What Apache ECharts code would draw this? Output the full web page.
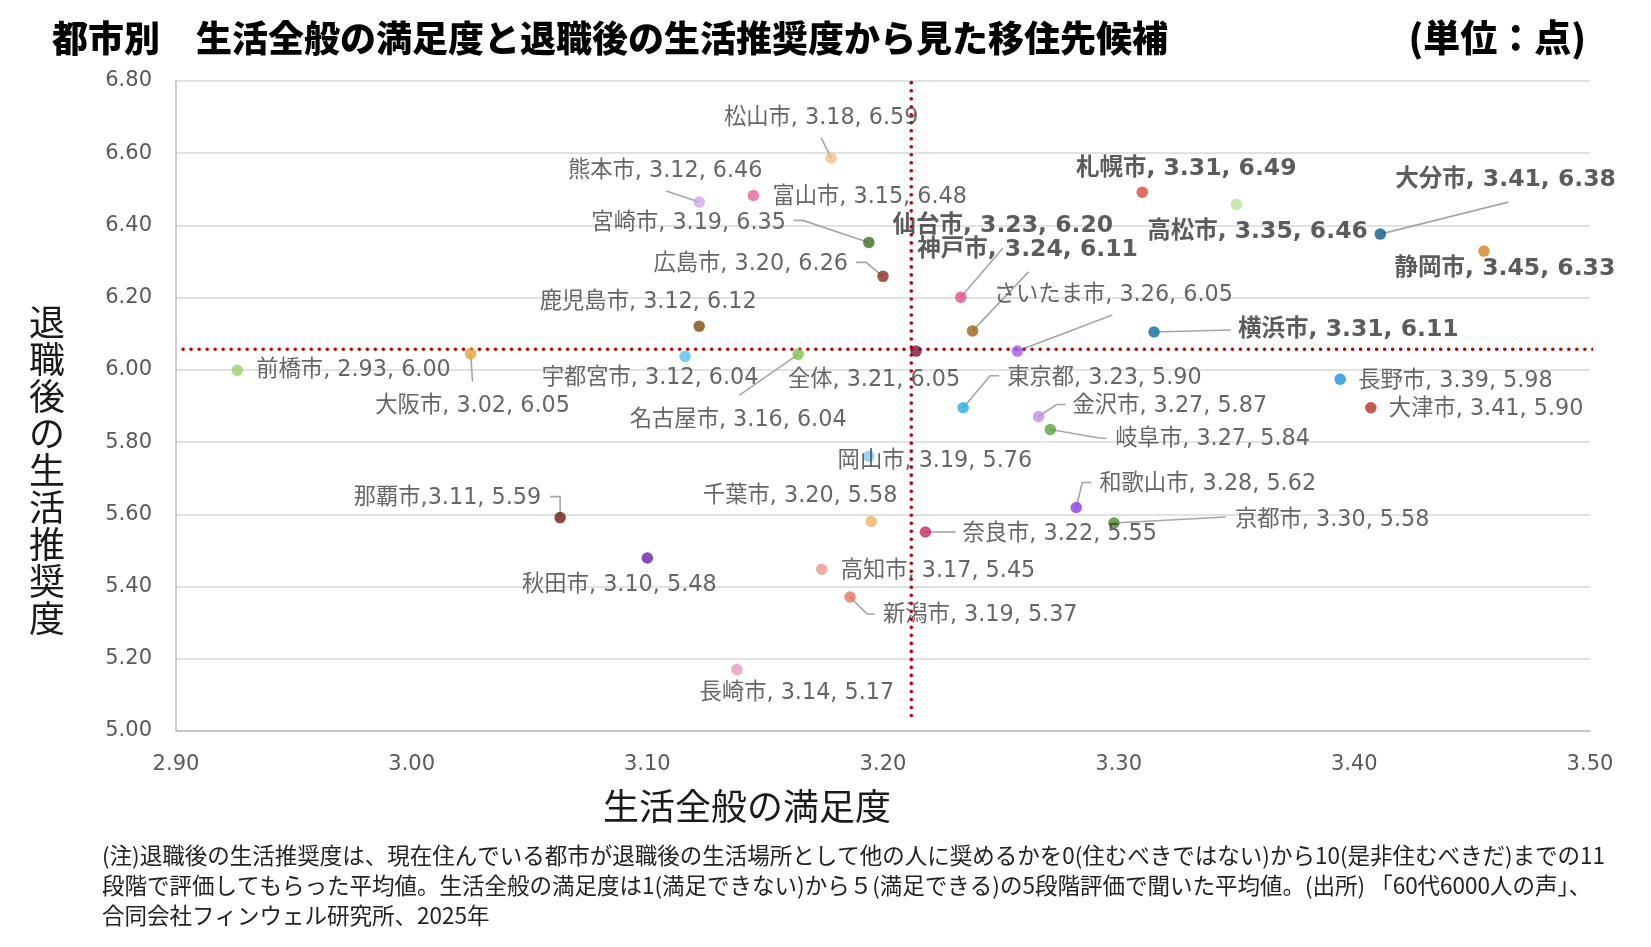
<!DOCTYPE html>
<html>
<head>
<meta charset="utf-8">
<script src="https://cdn.jsdelivr.net/npm/echarts@6/dist/echarts.min.js"></script>
<style>
html,body{margin:0;padding:0;background:#fff;}
#chart{width:1651px;height:947px;}
</style>
</head>
<body>
<div id="chart"></div>
<script>
// ---------------- DATA ----------------
const cities = ['松山市','熊本市','富山市','宮崎市','広島市','鹿児島市','宇都宮市','名古屋市','全体','仙台市','神戸市','さいたま市','前橋市','大阪市','東京都','金沢市','岐阜市','岡山市','千葉市','奈良市','和歌山市','京都市','那覇市','秋田市','高知市','新潟市','長崎市','札幌市','高松市','大分市','静岡市','横浜市','長野市','大津市'];
// 生活全般の満足度 (x)
const satisfaction = [3.178,3.122,3.145,3.194,3.200,3.122,3.116,3.164,3.214,3.233,3.238,3.257,2.926,3.025,3.234,3.266,3.271,3.194,3.195,3.218,3.282,3.298,3.063,3.100,3.174,3.186,3.138,3.310,3.350,3.411,3.455,3.315,3.394,3.407];
// 退職後の生活推奨度 (y)
const recommendation = [6.587,6.465,6.483,6.353,6.259,6.121,6.037,6.043,6.052,6.201,6.108,6.052,5.999,6.045,5.895,5.871,5.835,5.761,5.580,5.551,5.619,5.576,5.591,5.479,5.448,5.371,5.170,6.492,6.458,6.376,6.329,6.105,5.974,5.895];
// data label texts as printed
const labels = ['松山市, 3.18, 6.59','熊本市, 3.12, 6.46','富山市, 3.15, 6.48','宮崎市, 3.19, 6.35','広島市, 3.20, 6.26','鹿児島市, 3.12, 6.12','宇都宮市, 3.12, 6.04','名古屋市, 3.16, 6.04','全体, 3.21, 6.05','仙台市, 3.23, 6.20','神戸市, 3.24, 6.11','さいたま市, 3.26, 6.05','前橋市, 2.93, 6.00','大阪市, 3.02, 6.05','東京都, 3.23, 5.90','金沢市, 3.27, 5.87','岐阜市, 3.27, 5.84','岡山市, 3.19, 5.76','千葉市, 3.20, 5.58','奈良市, 3.22, 5.55','和歌山市, 3.28, 5.62','京都市, 3.30, 5.58','那覇市,3.11, 5.59','秋田市, 3.10, 5.48','高知市, 3.17, 5.45','新潟市, 3.19, 5.37','長崎市, 3.14, 5.17','札幌市, 3.31, 6.49','高松市, 3.35, 6.46','大分市, 3.41, 6.38','静岡市, 3.45, 6.33','横浜市, 3.31, 6.11','長野市, 3.39, 5.98','大津市, 3.41, 5.90'];
const highlighted = ['札幌市','大分市','高松市','静岡市','仙台市','神戸市','横浜市'];
// average (全体) reference lines
const averageX = 3.212;
const averageY = 6.057;
const averageXSpan = [5.043, 6.80];
const averageYSpan = [2.903, 3.516];
// axes
const xMin = 2.9, xMax = 3.5, xStep = 0.1;
const yMin = 5.0, yMax = 6.8, yStep = 0.2;

// ---------------- STYLE / LAYOUT ----------------
const colors = ['#F4C183','#CFA4EC','#E0649E','#3D6B1F','#8E2A20','#7B4A10','#56BDF2','#7DC24B','#7B1538','#E2508C','#9C6416','#A65CE6','#9BD16E','#EBA232','#2AAAE8','#BC8EE6','#5BA33A','#7FCBF2','#EDB464','#C22A64','#8A3BE2','#4C8A2A','#701A14','#6A1FAE','#EA9A8C','#E37462','#EA98C0','#E04A3C','#B9E29C','#0F5C88','#D3861E','#11699C','#1692D6','#B8321F'];
// label anchor offset from the point centre (px) and horizontal alignment
const labelPlacement = {
  '松山市':[-10,-40,'center'], '熊本市':[-34,-31,'center'], '富山市':[19,2,'left'],
  '宮崎市':[-83,-19,'right'], '広島市':[-35,-12,'right'], '鹿児島市':[-51,-24,'center'],
  '宇都宮市':[-35,22,'center'], '名古屋市':[-60,66,'center'], '全体':[-42,29,'center'],
  '仙台市':[42,-71,'center'], '神戸市':[55,-81,'center'], 'さいたま市':[96,-56,'center'],
  '前橋市':[19,0,'left'], '大阪市':[2,53,'center'], '東京都':[44,-30,'left'],
  '金沢市':[34,-10,'left'], '岐阜市':[65,10,'left'], '岡山市':[66,5,'center'],
  '千葉市':[-71,-25,'center'], '奈良市':[37,2,'left'], '和歌山市':[23,-23,'left'],
  '京都市':[121,-3,'left'], '那覇市':[-19,-19,'right'], '秋田市':[-28,27,'center'],
  '高知市':[19,2,'left'], '新潟市':[33,18,'left'], '長崎市':[60,24,'center'],
  '札幌市':[44,-23,'center'], '高松市':[21,27,'center'], '大分市':[15,-54,'left'],
  '静岡市':[21,18,'center'], '横浜市':[84,-2,'left'], '長野市':[18,2,'left'], '大津市':[18,1,'left']
};
// leader line bends, offsets from the point centre (px)
const leaderPath = {
  '松山市':[[-10,-20]], '熊本市':[[-33,-11]], '宮崎市':[[-66,-22],[-75,-22]],
  '広島市':[[-17,-14],[-27,-14]], '名古屋市':[[-59,41]], '仙台市':[[42,-49]],
  '神戸市':[[56,-59]], 'さいたま市':[[95,-36]], '大阪市':[[2,28]],
  '東京都':[[27,-32],[36,-32]], '金沢市':[[18,-12],[27,-12]], '岐阜市':[[46,8],[56,9]],
  '和歌山市':[[6,-25],[15,-25]], '京都市':[[112,-6]], '奈良市':[[30,0]],
  '那覇市':[[0,-21],[-10,-21]], '新潟市':[[17,17],[25,17]], '大分市':[[128,-32]], '横浜市':[[77,-2]]
};

const latinCjk = "'DejaVu Sans','Noto Sans CJK JP',sans-serif";
const cjk = "'Noto Sans CJK JP',sans-serif";

const points = cities.map((c, i) => [satisfaction[i], recommendation[i]]);

const chart = echarts.init(document.getElementById('chart'), null, {renderer: 'canvas'});

const footnote = [
  '(注)退職後の生活推奨度は、現在住んでいる都市が退職後の生活場所として他の人に奨めるかを0(住むべきではない)から10(是非住むべきだ)までの11',
  '段階で評価してもらった平均値。生活全般の満足度は1(満足できない)から５(満足できる)の5段階評価で聞いた平均値。(出所) 「60代6000人の声」、',
  '合同会社フィンウェル研究所、2025年'
];

const option = {
  backgroundColor: '#ffffff',
  animation: false,
  grid: {left: 176, right: 61, top: 81, bottom: 216, containLabel: false},
  xAxis: {
    type: 'value', min: xMin, max: xMax, interval: xStep,
    axisLine: {show: true, lineStyle: {color: '#bfbfbf', width: 1.5}},
    axisTick: {show: false},
    splitLine: {show: false},
    axisLabel: {margin: 23, color: '#595959', fontSize: 21, fontFamily: latinCjk,
      formatter: v => v.toFixed(2)}
  },
  yAxis: {
    type: 'value', min: yMin, max: yMax, interval: yStep,
    axisLine: {show: true, lineStyle: {color: '#bfbfbf', width: 1.5}},
    axisTick: {show: false},
    splitLine: {show: true, lineStyle: {color: '#d9d9d9', width: 1.5}},
    axisLabel: {margin: 24, color: '#595959', fontSize: 21, fontFamily: latinCjk,
      formatter: v => v.toFixed(2)}
  },
  series: [
    {
      type: 'custom',
      name: 'leaders',
      silent: true,
      z: 1,
      data: points,
      renderItem: function (params, api) {
        const path = leaderPath[cities[params.dataIndex]];
        if (!path) return null;
        const p = api.coord([api.value(0), api.value(1)]);
        const pts = [p].concat(path.map(o => [p[0] + o[0], p[1] + o[1]]));
        return {type: 'polyline', shape: {points: pts},
          style: {stroke: '#a6a6a6', lineWidth: 1.6, fill: null}};
      }
    },
    {
      type: 'line', name: 'avgX', silent: true, z: 2, clip: false, symbol: 'none',
      data: averageXSpan.map(v => [averageX, v]),
      lineStyle: {color: '#C00000', width: 3.6, type: [0.01, 8], cap: 'round'}
    },
    {
      type: 'line', name: 'avgY', silent: true, z: 2, clip: false, symbol: 'none',
      data: averageYSpan.map(v => [v, averageY]),
      lineStyle: {color: '#C00000', width: 3.6, type: [0.01, 8], cap: 'round'}
    },
    {
      type: 'scatter', name: 'cities', z: 3, symbol: 'circle', symbolSize: 11.5,
      data: points.map((p, i) => ({
        value: p,
        itemStyle: {color: colors[i]},
        label: highlighted.includes(cities[i])
          ? {fontWeight: 'bold', fontSize: 23.5, color: '#333333'}
          : {fontWeight: 'normal', fontSize: 22.3, color: '#404040'}
      })),
      label: {
        show: true, color: '#404040', fontFamily: latinCjk,
        formatter: p => labels[p.dataIndex]
      },
      labelLayout: function (p) {
        const s = labelPlacement[cities[p.dataIndex]];
        const cx = p.rect.x + p.rect.width / 2;
        const cy = p.rect.y + p.rect.height / 2;
        return {x: cx + s[0], y: cy + s[1], align: s[2], verticalAlign: 'middle', hideOverlap: false};
      }
    }
  ],
  graphic: [
    {type: 'text', x: 52, y: 38, style: {text: '都市別　生活全般の満足度と退職後の生活推奨度から見た移住先候補',
      font: "900 36px " + cjk, fill: '#000000', align: 'left', verticalAlign: 'middle'}},
    {type: 'text', x: 1586, y: 38, style: {text: '(単位：点)',
      font: "900 37px " + cjk, fill: '#000000', align: 'right', verticalAlign: 'middle'}},
    {type: 'text', x: 47, y: 470, style: {text: '退職後の生活推奨度'.split('').join('\n'),
      font: "36px " + cjk, lineHeight: 37, fill: '#1a1a1a', align: 'center', verticalAlign: 'middle'}},
    {type: 'text', x: 747, y: 806, style: {text: '生活全般の満足度',
      font: "36px " + cjk, fill: '#1a1a1a', align: 'center', verticalAlign: 'middle'}},
    {type: 'text', x: 102, y: 855, style: {text: footnote[0], font: "22.5px " + cjk, fill: '#222222', align: 'left', verticalAlign: 'middle'}},
    {type: 'text', x: 102, y: 885, style: {text: footnote[1], font: "22.5px " + cjk, fill: '#222222', align: 'left', verticalAlign: 'middle'}},
    {type: 'text', x: 102, y: 915, style: {text: footnote[2], font: "22.5px " + cjk, fill: '#222222', align: 'left', verticalAlign: 'middle'}}
  ]
};
chart.setOption(option);
</script>
</body>
</html>
